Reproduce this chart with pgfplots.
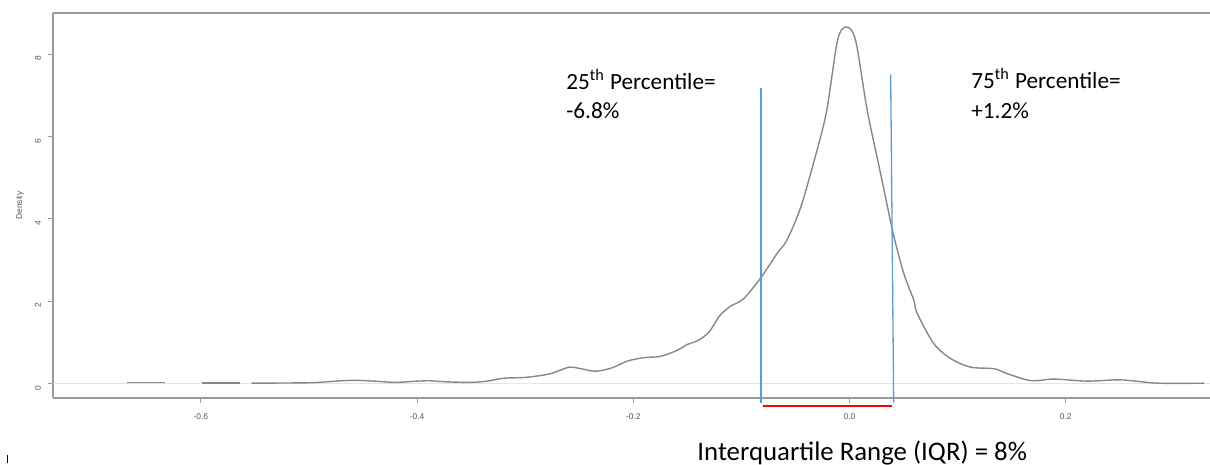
\documentclass[border=0pt]{standalone}
\usepackage{pgfplots}
\pgfplotsset{compat=1.18}
\usepackage{fontspec}
\setmainfont{Carlito}
\newfontfamily\arialf{Liberation Sans}
\definecolor{curvegray}{HTML}{878787}
\definecolor{framegray}{HTML}{9A9A9A}
\definecolor{zerogray}{HTML}{E4E4E4}
\definecolor{qblue}{HTML}{5B9BD5}
\definecolor{ticktext}{HTML}{555555}
\begin{document}
\begin{tikzpicture}
\useasboundingbox (-26.5pt,-33.5pt) rectangle (578.5pt,199pt);
\begin{axis}[
  scale only axis, width=578.5pt, height=192.5pt,
  xmin=-0.7368, xmax=0.3335, ymin=-0.35, ymax=9.0,
  axis x line*=bottom, axis y line*=left,
  axis line style={framegray, line width=0.8pt},
  clip=false,
  tick align=outside, major tick length=2.5pt,
  tick style={framegray, line width=0.5pt},
  xtick={-0.6,-0.4,-0.2,0,0.2},
  xticklabels={-0.6,-0.4,-0.2,0.0,0.2},
  ytick={0,2,4,6,8},
  yticklabels={0,2,4,6,8},
  xticklabel style={font=\arialf\fontsize{4.2}{4.2}\selectfont, text=ticktext, yshift=-1.8pt},
  yticklabel style={font=\arialf\fontsize{4.2}{4.2}\selectfont, text=ticktext, rotate=90, anchor=south, xshift=-2.2pt},
]
\draw[framegray, line width=0.8pt] (rel axis cs:0,1) -- (rel axis cs:1,1);
\node[rotate=90, font=\arialf\fontsize{4.2}{4.2}\selectfont, text=ticktext] at ([xshift=-16.5pt]rel axis cs:0,0.5) {Density};
\addplot[zerogray, line width=0.75pt] coordinates {(-0.7368,0) (0.3335,0)};
\addplot[curvegray, line width=0.7pt] coordinates {(-0.668,0.02) (-0.633,0.02)};
\addplot[curvegray, line width=0.7pt] coordinates {(-0.599,0.01) (-0.564,0.01)};
\addplot[curvegray, line width=0.7pt, smooth, tension=0.5] coordinates {
(-0.553,0.01) (-0.50,0.02) (-0.48,0.05) (-0.46,0.08) (-0.44,0.06) (-0.42,0.03)
(-0.40,0.06) (-0.39,0.07) (-0.37,0.04) (-0.35,0.03) (-0.335,0.06) (-0.32,0.13)
(-0.30,0.15) (-0.28,0.22) (-0.27,0.30) (-0.259,0.40) (-0.25,0.37) (-0.235,0.30)
(-0.22,0.38) (-0.205,0.55) (-0.19,0.63) (-0.175,0.66) (-0.16,0.80) (-0.15,0.95)
(-0.14,1.05) (-0.13,1.25) (-0.12,1.65) (-0.11,1.88) (-0.098,2.06) (-0.082,2.57)
(-0.067,3.16) (-0.058,3.48) (-0.045,4.29) (-0.030,5.67) (-0.021,6.64) (-0.011,8.34)
(-0.003,8.66) (0.0056,8.34) (0.0164,6.64) (0.0287,5.11) (0.0404,3.65) (0.0503,2.67)
(0.0596,2.02) (0.0627,1.70) (0.078,0.97) (0.0935,0.61) (0.112,0.40) (0.134,0.36)
(0.146,0.24) (0.168,0.07) (0.189,0.11) (0.22,0.06) (0.251,0.09) (0.285,0.01) (0.328,0.01)
};
\addplot[qblue, line width=0.65pt] coordinates {(-0.0819,7.17) (-0.0819,-0.46)};
\addplot[qblue, line width=0.65pt] coordinates {(0.0381,7.51) (0.0409,-0.46)};
\addplot[red, line width=1pt] coordinates {(-0.0803,-0.55) (0.0396,-0.55)};
\node[anchor=base west, font=\fontsize{11.6}{13}\selectfont, inner sep=0pt] at (axis cs:-0.2623,7.149) {25\textsuperscript{th} Percentile=};
\node[anchor=base west, font=\fontsize{11.6}{13}\selectfont, inner sep=0pt] at (axis cs:-0.2623,6.444) {-6.8\%};
\node[anchor=base west, font=\fontsize{11.6}{13}\selectfont, inner sep=0pt] at (axis cs:0.1124,7.173) {75\textsuperscript{th} Percentile=};
\node[anchor=base west, font=\fontsize{11.6}{13}\selectfont, inner sep=0pt] at (axis cs:0.1124,6.444) {+1.2\%};
\node[anchor=base west, font=\fontsize{13.4}{15}\selectfont, inner sep=0pt] at (axis cs:-0.141,-1.86) {Interquartile Range (IQR) = 8\%};
\end{axis}
\draw[black, line width=0.5pt] (-22.5pt,-28.5pt) -- (-22.5pt,-32.5pt);
\end{tikzpicture}
\end{document}
